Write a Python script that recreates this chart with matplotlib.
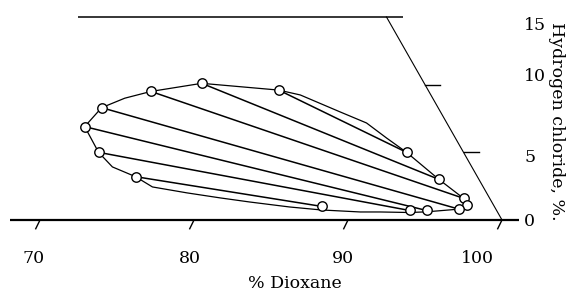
import matplotlib
matplotlib.use("Agg")
import matplotlib.pyplot as plt

# ---- data ----
# % dioxane (x) and % hydrogen chloride (y) of the measured points
left_x = [72.9, 73.8, 76.2, 74.0, 77.2, 80.5, 85.5]
left_y = [6.9, 5.0, 3.2, 8.3, 9.5, 10.1, 9.6]
right_x = [93.8, 95.9, 97.5, 97.7, 97.2, 95.1, 94.0, 88.3]
right_y = [5.0, 3.0, 1.6, 1.1, 0.8, 0.7, 0.7, 1.0]

# tie lines: (index in left, index in right)
tie_pairs = [(6, 0), (5, 1), (4, 2), (3, 4), (0, 5), (1, 6), (2, 7)]

# binodal envelope
env_x = [72.9, 74.0, 75.5, 77.2, 80.5, 85.5, 86.9, 89.5, 91.2, 92.5, 93.8,
         95.9, 97.5, 97.7, 97.2, 95.1, 94.0, 92.1, 90.8, 88.25, 86.2, 83.6,
         81.7, 79.55, 77.3, 76.2, 74.7, 73.8, 72.9]
env_y = [6.9, 8.3, 9.0, 9.5, 10.1, 9.6, 9.24, 7.98, 7.17, 6.06, 5.0,
         3.0, 1.6, 1.1, 0.8, 0.6, 0.55, 0.59, 0.59, 0.74, 0.96, 1.33,
         1.63, 2.0, 2.44, 3.2, 3.92, 5.0, 6.9]

x_ticks = [70, 80, 90, 100]
x_tick_labels = ["70", "80", "90", "100"]
y_ticks = [0, 5, 10, 15]
y_tick_labels = ["0", "5", "10", "15"]

# ---- figure ----
fig = plt.figure(figsize=(5.75, 2.93), dpi=100)
ax = fig.add_axes([0, 0, 1, 1])
ax.set_xlim(67.40, 104.74)
ax.set_ylim(-5.40, 16.26)
ax.axis("off")

serif = "DejaVu Serif"
fs = 12.5

# frame: baseline, top line, slanted side
x_top_left = 72.45
apex_x = 100.0
top_x = 92.5
h_max = 15
ax.plot([68.05, apex_x + 1.1], [0, 0], color="black", lw=1.6, solid_capstyle="butt")
ax.plot([x_top_left, top_x + 1.1], [h_max, h_max], color="black", lw=1.1, solid_capstyle="butt")
ax.plot([apex_x, top_x], [0, h_max], color="black", lw=0.8)

# right-side ticks on slanted line
for h in y_ticks[1:3]:
    xs = apex_x - (apex_x - top_x) * h / h_max
    ax.plot([xs, xs + 1.0], [h, h], color="black", lw=1.0)

# slanted ticks on x axis
for t in x_ticks:
    ax.plot([t, t - 0.28], [0, -0.65], color="black", lw=1.0)

# envelope
ax.plot(env_x, env_y, color="black", lw=0.9, zorder=2)

# tie lines
for li, ri in tie_pairs:
    ax.plot([left_x[li], right_x[ri]], [left_y[li], right_y[ri]],
            color="black", lw=1.1, zorder=2)

# points
ax.plot(left_x + right_x, left_y + right_y, linestyle="none", marker="o",
        markersize=6.8, markerfacecolor="white", markeredgecolor="black",
        markeredgewidth=1.0, zorder=3)

# x tick labels
x_label_offsets = [-0.45, -0.26, -0.32, -1.62]
for t, lab, off in zip(x_ticks, x_tick_labels, x_label_offsets):
    ax.text(t + off, -2.88, lab, ha="center", va="center", fontsize=fs, family=serif)
ax.text(86.56, -4.7, "% Dioxane", ha="center", va="center", fontsize=fs, family=serif)

# right tick labels
y_label_offsets = [-0.15, -0.42, 0.57, -0.6]
for t, lab, off in zip(y_ticks, y_tick_labels, y_label_offsets):
    ax.text(101.45, t + off, lab, ha="left", va="center", fontsize=fs, family=serif)
ax.text(103.55, 7.28, "Hydrogen chloride, %.", ha="center", va="center",
        rotation=270, fontsize=fs, family=serif)

fig.savefig("out.png", dpi=100)
